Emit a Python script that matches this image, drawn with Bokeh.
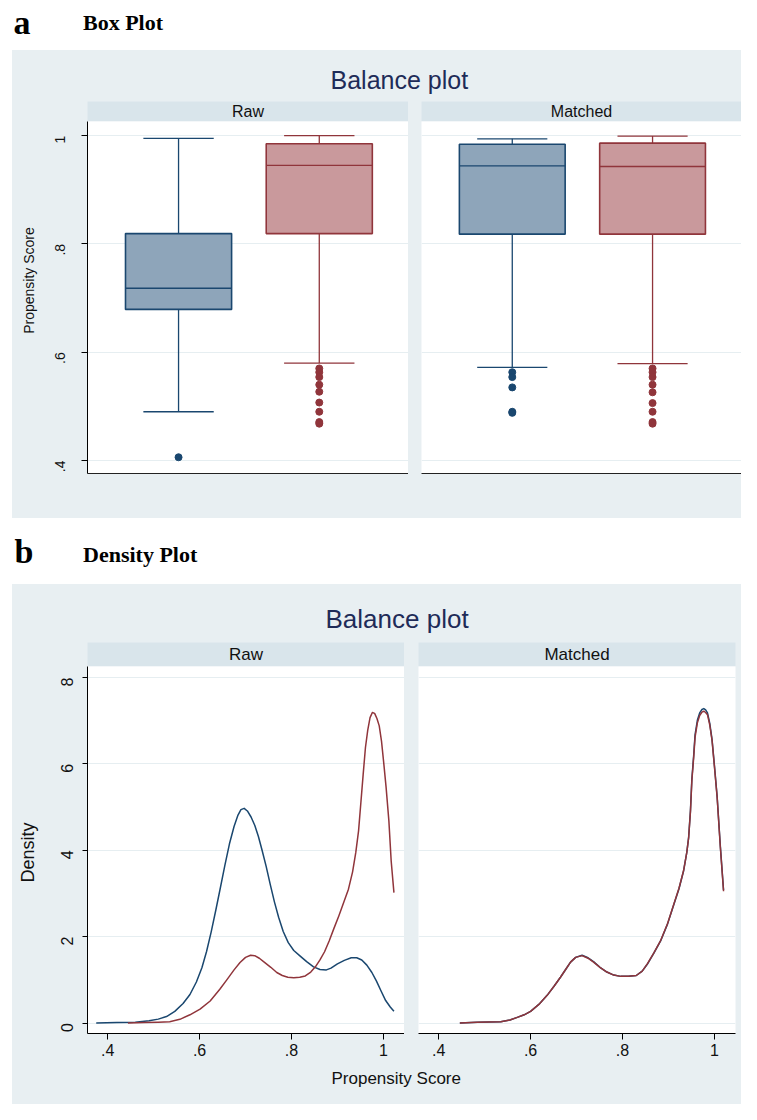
import math
from bokeh.plotting import figure
from bokeh.layouts import column, row
from bokeh.models import Range1d, FixedTicker, Spacer
from bokeh.embed import file_html
from bokeh.resources import INLINE
from bokeh.core.properties import value

# ---------------- data ----------------
groups = ["Control", "Treated"]
positions = [1, 2]

# box plot (Propensity Score)
raw_q1 = [0.679, 0.819]
raw_med = [0.718, 0.945]
raw_q3 = [0.819, 0.985]
raw_lo = [0.490, 0.580]
raw_hi = [0.995, 1.000]
raw_out_control = [0.406]
raw_out_treated = [0.570, 0.563, 0.554, 0.540, 0.527, 0.507, 0.490, 0.471, 0.468]

matched_q1 = [0.818, 0.818]
matched_med = [0.944, 0.943]
matched_q3 = [0.984, 0.986]
matched_lo = [0.572, 0.579]
matched_hi = [0.994, 0.999]
matched_out_control = [0.563, 0.554, 0.535, 0.490, 0.488]
matched_out_treated = [0.570, 0.563, 0.554, 0.540, 0.526, 0.506, 0.490, 0.471, 0.468]

box_yticks = [0.4, 0.6, 0.8, 1.0]
box_ytick_labels = [".4", ".6", ".8", "1"]

# density plot
raw_control_x = [0.375, 0.420, 0.460, 0.490, 0.510, 0.528, 0.546, 0.564, 0.579, 0.593,
                 0.605, 0.615, 0.625, 0.635, 0.645, 0.655, 0.665, 0.675, 0.683, 0.690,
                 0.697, 0.704, 0.712, 0.720, 0.728, 0.736, 0.745, 0.754, 0.763, 0.772,
                 0.782, 0.793, 0.805, 0.819, 0.833, 0.848, 0.862, 0.876, 0.886, 0.900,
                 0.915, 0.930, 0.942, 0.953, 0.964, 0.975, 0.985, 0.995, 1.005, 1.015,
                 1.023]
raw_control_y = [0.00, 0.01, 0.02, 0.05, 0.09, 0.15, 0.27, 0.45, 0.66, 0.95,
                 1.28, 1.65, 2.10, 2.60, 3.12, 3.65, 4.15, 4.55, 4.80, 4.94,
                 4.97, 4.91, 4.77, 4.58, 4.32, 4.00, 3.62, 3.20, 2.80, 2.45,
                 2.12, 1.86, 1.68, 1.55, 1.42, 1.30, 1.24, 1.23, 1.27, 1.37,
                 1.45, 1.51, 1.51, 1.46, 1.34, 1.17, 0.97, 0.74, 0.52, 0.37,
                 0.27]

raw_treated_x = [0.444, 0.480, 0.510, 0.535, 0.557, 0.579, 0.601, 0.623, 0.644, 0.660,
                 0.675, 0.688, 0.700, 0.711, 0.720, 0.730, 0.742, 0.755, 0.768, 0.780,
                 0.792, 0.805, 0.818, 0.830, 0.842, 0.852, 0.862, 0.872, 0.882, 0.892,
                 0.903, 0.914, 0.924, 0.933, 0.940, 0.946, 0.951, 0.956, 0.961, 0.966,
                 0.971, 0.976, 0.981, 0.986, 0.991, 0.996, 1.001, 1.006, 1.012, 1.017,
                 1.023]
raw_treated_y = [0.00, 0.01, 0.02, 0.03, 0.085, 0.19, 0.32, 0.51, 0.78, 1.01,
                 1.23, 1.40, 1.52, 1.57, 1.56, 1.50, 1.40, 1.29, 1.17, 1.10,
                 1.06, 1.05, 1.06, 1.09, 1.18, 1.30, 1.46, 1.65, 1.90, 2.18,
                 2.48, 2.80, 3.10, 3.50, 3.95, 4.45, 5.10, 5.75, 6.38, 6.78,
                 7.07, 7.19, 7.17, 7.05, 6.88, 6.52, 6.00, 5.45, 4.68, 3.75,
                 3.02]

matched_x = [0.446, 0.484, 0.535, 0.555, 0.571, 0.586, 0.600, 0.618, 0.636, 0.651,
             0.665, 0.677, 0.687, 0.698, 0.712, 0.725, 0.737, 0.751, 0.766, 0.781,
             0.796, 0.813, 0.830, 0.843, 0.854, 0.868, 0.883, 0.898, 0.912, 0.923,
             0.933, 0.940, 0.944, 0.948, 0.951, 0.955, 0.958, 0.963, 0.968, 0.973,
             0.977, 0.981, 0.985, 0.990, 0.995, 1.000, 1.006, 1.013, 1.020]
matched_control_y = [0.00, 0.02, 0.03, 0.07, 0.13, 0.19, 0.27, 0.43, 0.64, 0.85,
                     1.06, 1.25, 1.41, 1.52, 1.57, 1.51, 1.42, 1.29, 1.18, 1.11,
                     1.08, 1.08, 1.10, 1.20, 1.36, 1.61, 1.90, 2.29, 2.75, 3.11,
                     3.52, 3.95, 4.30, 4.93, 5.65, 6.20, 6.68, 7.01, 7.18, 7.26,
                     7.28, 7.25, 7.18, 6.94, 6.56, 5.98, 5.25, 4.10, 3.08]
matched_treated_y = [0.00, 0.02, 0.03, 0.07, 0.13, 0.19, 0.27, 0.43, 0.64, 0.85,
                     1.06, 1.25, 1.41, 1.52, 1.56, 1.50, 1.41, 1.29, 1.18, 1.11,
                     1.08, 1.08, 1.10, 1.20, 1.37, 1.62, 1.91, 2.30, 2.76, 3.12,
                     3.53, 3.95, 4.29, 4.90, 5.61, 6.15, 6.62, 6.95, 7.12, 7.20,
                     7.22, 7.19, 7.14, 6.90, 6.54, 5.95, 5.23, 4.07, 3.05]

dens_xticks = [0.4, 0.6, 0.8, 1.0]
dens_xtick_labels = [".4", ".6", ".8", "1"]
dens_yticks = [0, 2, 4, 6, 8]
dens_ytick_labels = ["0", "2", "4", "6", "8"]

# ---------------- style ----------------
BG = "#e8eff2"
STRIP = "#d9e5eb"
GRID = "#e6eef1"
BLUE = "#1a476f"
RED = "#90353b"
BLUE_FILL = "#8ea5ba"
RED_FILL = "#c9999c"
TITLE_C = "#1e2b58"
SANS = "Liberation Sans"
SERIF = "Liberation Serif"
colors = [BLUE, RED]
fills = [BLUE_FILL, RED_FILL]
BGSTYLE = {"background-color": BG}


def text_fig(w, h, bg, items):
    p = figure(width=w, height=h, x_range=Range1d(0, w), y_range=Range1d(h, 0),
               output_backend="svg", toolbar_location=None,
               x_axis_location=None, y_axis_location=None,
               min_border=0, min_border_left=0, min_border_right=0,
               min_border_top=0, min_border_bottom=0,
               background_fill_color=bg, border_fill_color=bg, outline_line_color=None)
    p.grid.visible = False
    for (x, y, t, font, size, style, color, angle) in items:
        p.text(x=[x], y=[y], text=[t], text_font=value(font), text_font_size=size,
               text_font_style=style, text_color=color,
               text_align="left" if angle is None else "center",
               text_baseline="middle", angle=0 if angle is None else angle)
    return p


def strip_fig(w, h, left, right, label, size):
    p = figure(width=w, height=h, x_range=Range1d(0, 1), y_range=Range1d(0, 1),
               output_backend="svg", toolbar_location=None,
               x_axis_location=None, y_axis_location=None,
               min_border=0, min_border_left=left, min_border_right=right,
               min_border_top=0, min_border_bottom=0,
               background_fill_color=STRIP, border_fill_color=BG, outline_line_color=None)
    p.grid.visible = False
    p.text(x=[0.5], y=[0.5], text=[label], text_font=value(SANS), text_font_size=size,
           text_color="#111111", text_align="center", text_baseline="middle")
    return p


def style_yaxis(p, ticks, labels, size, tick_out, standoff):
    ax = p.yaxis[0]
    ax.ticker = FixedTicker(ticks=ticks)
    ax.major_label_overrides = {t: l for t, l in zip(ticks, labels)}
    ax.major_label_orientation = math.pi / 2
    ax.major_label_text_font = SANS
    ax.major_label_text_font_size = size
    ax.major_label_text_color = "#111111"
    ax.major_label_standoff = standoff
    ax.major_tick_out = tick_out
    ax.major_tick_in = 0
    ax.minor_tick_line_color = None
    ax.axis_line_color = "black"
    ax.major_tick_line_color = "black"


def box_facet(w, left, right, q1, med, q3, lo, hi, out_c, out_t, show_y):
    p = figure(width=w, height=397, x_range=Range1d(0.353, 2.634),
               y_range=Range1d(0.376, 1.026),
               output_backend="svg", toolbar_location=None,
               x_axis_location="below", y_axis_location="left" if show_y else None,
               min_border=0, min_border_left=left, min_border_right=right,
               min_border_top=0, min_border_bottom=45,
               background_fill_color="white", border_fill_color=BG, outline_line_color=None)
    p.xgrid.visible = False
    p.ygrid.ticker = FixedTicker(ticks=box_yticks)
    p.ygrid.grid_line_color = GRID
    p.ygrid.grid_line_width = 1.2
    xa = p.xaxis[0]
    xa.ticker = FixedTicker(ticks=[])
    xa.major_tick_line_color = None
    xa.minor_tick_line_color = None
    xa.axis_line_color = "#222222"
    if show_y:
        style_yaxis(p, box_yticks, box_ytick_labels, "14px", 6, 21)
    cap_l = [x - 0.25 for x in positions]
    cap_r = [x + 0.25 for x in positions]
    box_l = [x - 0.377 for x in positions]
    box_r = [x + 0.377 for x in positions]
    p.segment(x0=positions, y0=q3, x1=positions, y1=hi, line_color=colors, line_width=1.3)
    p.segment(x0=positions, y0=lo, x1=positions, y1=q1, line_color=colors, line_width=1.3)
    p.segment(x0=cap_l, y0=hi, x1=cap_r, y1=hi, line_color=colors, line_width=1.3)
    p.segment(x0=cap_l, y0=lo, x1=cap_r, y1=lo, line_color=colors, line_width=1.3)
    p.vbar(x=positions, bottom=q1, top=q3, width=0.754, fill_color=fills,
           line_color=colors, line_width=1.6)
    p.segment(x0=box_l, y0=med, x1=box_r, y1=med, line_color=colors, line_width=1.4)
    p.scatter(x=[positions[0]] * len(out_c), y=out_c, size=7, color=BLUE)
    p.scatter(x=[positions[1]] * len(out_t), y=out_t, size=7, color=RED)
    return p


def dens_facet(w, left, right, cx, cy, tx, ty, show_y):
    p = figure(width=w, height=400, x_range=Range1d(0.356, 1.046),
               y_range=Range1d(-0.243, 8.255),
               output_backend="svg", toolbar_location=None,
               x_axis_location="below", y_axis_location="left" if show_y else None,
               min_border=0, min_border_left=left, min_border_right=right,
               min_border_top=0, min_border_bottom=33,
               background_fill_color="white", border_fill_color=BG, outline_line_color=None)
    p.xgrid.visible = False
    p.ygrid.ticker = FixedTicker(ticks=dens_yticks)
    p.ygrid.grid_line_color = GRID
    p.ygrid.grid_line_width = 1.2
    xa = p.xaxis[0]
    xa.ticker = FixedTicker(ticks=dens_xticks)
    xa.major_label_overrides = {t: l for t, l in zip(dens_xticks, dens_xtick_labels)}
    xa.major_label_text_font = SANS
    xa.major_label_text_font_size = "16px"
    xa.major_label_text_color = "#111111"
    xa.major_label_standoff = 4
    xa.major_tick_out = 6
    xa.major_tick_in = 0
    xa.minor_tick_line_color = None
    xa.axis_line_color = "black"
    xa.major_tick_line_color = "black"
    if show_y:
        style_yaxis(p, dens_yticks, dens_ytick_labels, "16px", 5, 15)
    p.line(cx, cy, line_color=BLUE, line_width=1.5, line_join="round")
    p.line(tx, ty, line_color=RED, line_width=1.5, line_join="round")
    return p


# ---------------- panel a ----------------
header_a = text_fig(741, 50, "white", [
    (13, 21.5, "a", SERIF, "34px", "bold", "black", None),
    (82.5, 22.3, "Box Plot", SERIF, "22px", "bold", "black", None),
])
title_a = text_fig(729, 51, BG, [
    (318, 29.3, "Balance plot", SANS, "25px", "normal", TITLE_C, None),
])
ytitle_a = text_fig(28, 417, BG, [
    (16, 179, "Propensity Score", SANS, "14px", "normal", "#111111", math.pi / 2),
])
strip_raw_a = strip_fig(368, 20, 47, 0, "Raw", "16px")
strip_m_a = strip_fig(320, 20, 0, 0, "Matched", "16px")
gap_a = text_fig(13, 417, BG, [])
box_raw = box_facet(368, 47, 0, raw_q1, raw_med, raw_q3, raw_lo, raw_hi,
                    raw_out_control, raw_out_treated, True)
box_m = box_facet(320, 0, 0, matched_q1, matched_med, matched_q3, matched_lo, matched_hi,
                  matched_out_control, matched_out_treated, False)

panel_a = row(Spacer(width=12, height=468),
              column(title_a,
                     row(ytitle_a,
                         column(strip_raw_a, box_raw, spacing=0, styles=BGSTYLE),
                         gap_a,
                         column(strip_m_a, box_m, spacing=0, styles=BGSTYLE),
                         spacing=0, styles=BGSTYLE),
                     spacing=0, styles=BGSTYLE),
              spacing=0)

# ---------------- panel b ----------------
header_b = text_fig(741, 66, "white", [
    (14, 33.1, "b", SERIF, "34px", "bold", "black", None),
    (82.5, 36.3, "Density Plot", SERIF, "22px", "bold", "black", None),
])
title_b = text_fig(729, 58, BG, [
    (313, 34.2, "Balance plot", SANS, "26px", "normal", TITLE_C, None),
])
ytitle_b = text_fig(28, 424, BG, [
    (15, 210, "Density", SANS, "18px", "normal", "#111111", math.pi / 2),
])
strip_raw_b = strip_fig(364, 24, 47, 0, "Raw", "17px")
strip_m_b = strip_fig(323, 24, 0, 6, "Matched", "17px")
gap_b = text_fig(14, 424, BG, [])
dens_raw = dens_facet(364, 47, 0, raw_control_x, raw_control_y,
                      raw_treated_x, raw_treated_y, True)
dens_m = dens_facet(323, 0, 6, matched_x, matched_control_y,
                    matched_x, matched_treated_y, False)
xtitle_b = text_fig(729, 38, BG, [
    (319, 11.5, "Propensity Score", SANS, "17px", "normal", "#111111", None),
])

panel_b = row(Spacer(width=12, height=520),
              column(title_b,
                     row(ytitle_b,
                         column(strip_raw_b, dens_raw, spacing=0, styles=BGSTYLE),
                         gap_b,
                         column(strip_m_b, dens_m, spacing=0, styles=BGSTYLE),
                         spacing=0, styles=BGSTYLE),
                     xtitle_b,
                     spacing=0, styles=BGSTYLE),
              spacing=0)

layout = column(header_a, panel_a, header_b, panel_b, spacing=0)

open("out.html", "w").write(file_html(layout, INLINE))
